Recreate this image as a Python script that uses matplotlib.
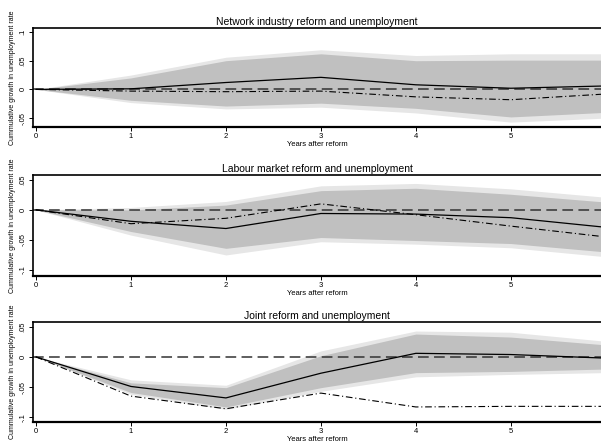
import matplotlib.pyplot as plt

plt.rcParams["font.family"] = ["Liberation Sans", "DejaVu Sans"]

years = [0, 1, 2, 3, 4, 5, 6]

# panel 1: network industry reform
net_est = [0, 0.001, 0.012, 0.021, 0.008, 0.002, 0.006]
net_alt = [0, -0.003, -0.004, -0.003, -0.013, -0.018, -0.008]
net_in_hi = [0, 0.020, 0.050, 0.062, 0.050, 0.051, 0.051]
net_in_lo = [0, -0.019, -0.029, -0.024, -0.033, -0.048, -0.040]
net_out_hi = [0, 0.025, 0.056, 0.069, 0.059, 0.062, 0.062]
net_out_lo = [0, -0.023, -0.034, -0.031, -0.041, -0.057, -0.050]

# panel 2: labour market reform
lab_est = [0, -0.019, -0.031, -0.006, -0.007, -0.013, -0.029]
lab_alt = [0, -0.023, -0.014, 0.010, -0.008, -0.027, -0.045]
lab_in_hi = [0, 0.000, 0.008, 0.032, 0.036, 0.026, 0.013]
lab_in_lo = [0, -0.036, -0.064, -0.046, -0.051, -0.056, -0.070]
lab_out_hi = [0, 0.004, 0.014, 0.040, 0.044, 0.035, 0.021]
lab_out_lo = [0, -0.042, -0.075, -0.053, -0.057, -0.063, -0.078]

# panel 3: joint reform
joint_est = [0, -0.049, -0.068, -0.027, 0.006, 0.004, -0.002]
joint_alt = [0, -0.065, -0.086, -0.060, -0.083, -0.082, -0.082]
joint_in_hi = [0, -0.043, -0.051, 0.002, 0.038, 0.033, 0.020]
joint_in_lo = [0, -0.059, -0.083, -0.051, -0.026, -0.024, -0.020]
joint_out_hi = [0, -0.038, -0.047, 0.010, 0.043, 0.041, 0.026]
joint_out_lo = [0, -0.062, -0.087, -0.057, -0.033, -0.029, -0.026]

titles = [
    "Network industry reform and unemployment",
    "Labour market reform and unemployment",
    "Joint reform and unemployment",
]
ytick_vals = [
    [-0.05, 0, 0.05, 0.1],
    [-0.1, -0.05, 0, 0.05],
    [-0.1, -0.05, 0, 0.05],
]
ytick_labels = [
    ["-.05", "0", ".05", ".1"],
    ["-.1", "-.05", "0", ".05"],
    ["-.1", "-.05", "0", ".05"],
]
ylims = [(-0.0655, 0.107), (-0.11, 0.058), (-0.108, 0.058)]

panels = [
    (net_est, net_alt, net_in_hi, net_in_lo, net_out_hi, net_out_lo),
    (lab_est, lab_alt, lab_in_hi, lab_in_lo, lab_out_hi, lab_out_lo),
    (joint_est, joint_alt, joint_in_hi, joint_in_lo, joint_out_hi, joint_out_lo),
]

# axes boxes in figure fractions (left, bottom, width, height)
boxes = [
    [0.0549, 0.7127, 0.9451, 0.224],
    [0.0549, 0.3756, 0.9451, 0.2284],
    [0.0549, 0.0452, 0.9451, 0.2263],
]

fig = plt.figure(figsize=(6.01, 4.42), dpi=100)

for i in range(3):
    est, alt, in_hi, in_lo, out_hi, out_lo = panels[i]
    ax = fig.add_axes(boxes[i])

    ax.fill_between(years, out_lo, out_hi, color="#e6e6e6", lw=0)
    ax.fill_between(years, in_lo, in_hi, color="#c0c0c0", lw=0)
    ax.axhline(0, color="#333333", lw=1.1, ls=(0, (7, 3.5)))
    ax.plot(years, est, color="black", lw=0.9)
    ax.plot(years, alt, color="black", lw=0.8, ls=(0, (6, 2.5, 1, 2.5)))

    ax.set_xlim(-0.032, 5.95)
    ax.set_ylim(*ylims[i])

    ax.set_xticks([0, 1, 2, 3, 4, 5])
    ax.set_xticklabels(["0", "1", "2", "3", "4", "5"])
    ax.set_yticks(ytick_vals[i])
    ax.set_yticklabels(ytick_labels[i], rotation=90, va="center")
    ax.tick_params(axis="both", labelsize=5.5, length=3, width=0.7, pad=1.5)

    ax.spines["right"].set_visible(False)
    ax.spines["left"].set_linewidth(1.2)
    ax.spines["bottom"].set_linewidth(1.6)
    ax.spines["top"].set_linewidth(1.2)

    ax.set_title(titles[i], fontsize=7.5, pad=2)
    ax.set_xlabel("Years after reform", fontsize=5.5, labelpad=0.5)
    ax.set_ylabel("Cummulative growth in unemployment rate", fontsize=5.0, labelpad=3)

fig.savefig("out.png", dpi=100)
